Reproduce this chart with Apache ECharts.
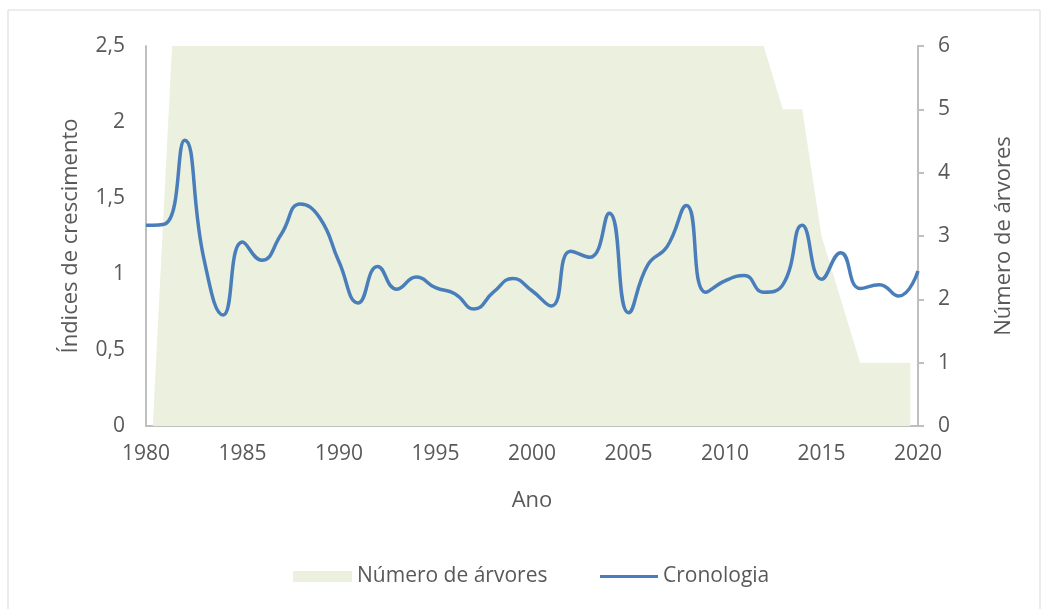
<!DOCTYPE html>
<html>
<head>
<meta charset="utf-8">
<script src="https://cdn.jsdelivr.net/npm/echarts@6/dist/echarts.min.js"></script>
<style>
  html, body { margin: 0; padding: 0; background: #fff; }
  #chart { width: 1048px; height: 609px; }
</style>
</head>
<body>
<div id="chart"></div>
<script>
  // anos da cronologia
  var anos = [1980, 1981, 1982, 1983, 1984, 1985, 1986, 1987, 1988, 1989,
              1990, 1991, 1992, 1993, 1994, 1995, 1996, 1997, 1998, 1999,
              2000, 2001, 2002, 2003, 2004, 2005, 2006, 2007, 2008, 2009,
              2010, 2011, 2012, 2013, 2014, 2015, 2016, 2017, 2018, 2019, 2020];
  var cronologia = [1.32, 1.33, 1.88, 1.10, 0.73, 1.21, 1.09, 1.26, 1.46, 1.37,
                    1.08, 0.81, 1.05, 0.90, 0.98, 0.91, 0.87, 0.77, 0.88, 0.97,
                    0.89, 0.79, 1.15, 1.11, 1.40, 0.745, 1.06, 1.18, 1.45, 0.88,
                    0.955, 0.99, 0.88, 0.93, 1.32, 0.965, 1.14, 0.905, 0.93, 0.855, 1.02];

  // número de árvores (eixo secundário)
  var arvoresAnos = [1980.35, 1981.35, 1982, 1983, 1984, 1985, 1986, 1987, 1988, 1989,
                     1990, 1991, 1992, 1993, 1994, 1995, 1996, 1997, 1998, 1999,
                     2000, 2001, 2002, 2003, 2004, 2005, 2006, 2007, 2008, 2009,
                     2010, 2011, 2012, 2013, 2014, 2015, 2016, 2017, 2018, 2019, 2019.6];
  var arvores = [0, 6, 6, 6, 6, 6, 6, 6, 6, 6,
                 6, 6, 6, 6, 6, 6, 6, 6, 6, 6,
                 6, 6, 6, 6, 6, 6, 6, 6, 6, 6,
                 6, 6, 6, 5, 5, 3, 2, 1, 1, 1, 1];

  var textColor = '#595959';
  var axisColor = '#bfbfbf';
  var fontName = 'Open Sans';

  var linhaData = anos.map(function (a, i) { return [a, cronologia[i]]; });
  var areaData = arvoresAnos.map(function (a, i) { return [a, arvores[i]]; });

  function virgula(v) { return String(v).replace('.', ','); }

  var myChart = echarts.init(document.getElementById('chart'));
  var option = {
    animation: false,
    textStyle: { fontFamily: fontName },
    graphic: [{
      type: 'rect',
      shape: { x: 8, y: 10, width: 1032, height: 620 },
      style: { fill: 'none', stroke: '#d9d9d9', lineWidth: 1 },
      silent: true
    }],
    grid: { left: 146, right: 130, top: 46, bottom: 183 },
    legend: [{
      data: [{ name: 'Número de árvores', icon: 'rect' }],
      left: 288, top: 561,
      itemWidth: 59, itemHeight: 11,
      textStyle: { color: textColor, fontSize: 21, fontFamily: fontName }
    }, {
      data: [{ name: 'Cronologia', icon: 'rect' }],
      left: 595, top: 561,
      itemWidth: 58, itemHeight: 3,
      textStyle: { color: textColor, fontSize: 21, fontFamily: fontName }
    }],
    xAxis: {
      type: 'value',
      min: 1980, max: 2020, interval: 5,
      name: 'Ano', nameLocation: 'middle', nameGap: 64,
      nameTextStyle: { color: textColor, fontSize: 22 },
      axisLine: { show: true, lineStyle: { color: axisColor, width: 2 } },
      axisTick: { show: false },
      splitLine: { show: false },
      axisLabel: { color: textColor, fontSize: 21, margin: 18, formatter: function (v) { return String(v); } }
    },
    yAxis: [{
      type: 'value',
      min: 0, max: 2.5, interval: 0.5,
      name: 'Índices de crescimento', nameLocation: 'middle', nameGap: 64,
      nameRotate: 90,
      nameTextStyle: { color: textColor, fontSize: 22 },
      axisLine: { show: true, lineStyle: { color: axisColor, width: 2 } },
      axisTick: { show: false },
      splitLine: { show: false },
      axisLabel: { color: textColor, fontSize: 21, margin: 21, formatter: virgula }
    }, {
      type: 'value',
      position: 'right',
      min: 0, max: 6, interval: 1,
      name: 'Número de árvores', nameLocation: 'middle', nameGap: 75,
      nameRotate: 90,
      nameTextStyle: { color: textColor, fontSize: 22 },
      axisLine: { show: true, lineStyle: { color: axisColor, width: 2 } },
      axisTick: { show: true, length: 6, lineStyle: { color: axisColor, width: 2 } },
      splitLine: { show: false },
      axisLabel: { color: textColor, fontSize: 21, margin: 20 }
    }],
    series: [{
      name: 'Número de árvores',
      type: 'line',
      yAxisIndex: 1,
      data: areaData,
      symbol: 'none',
      color: '#ebf1de',
      lineStyle: { width: 0 },
      areaStyle: { color: '#ebf1de', opacity: 1 },
      z: 1
    }, {
      name: 'Cronologia',
      type: 'line',
      yAxisIndex: 0,
      data: linhaData,
      symbol: 'none',
      smooth: 0.5,
      color: '#4a7ebb',
      lineStyle: { width: 3.5, color: '#4a7ebb' },
      z: 3
    }]
  };
  myChart.setOption(option);
</script>
</body>
</html>
